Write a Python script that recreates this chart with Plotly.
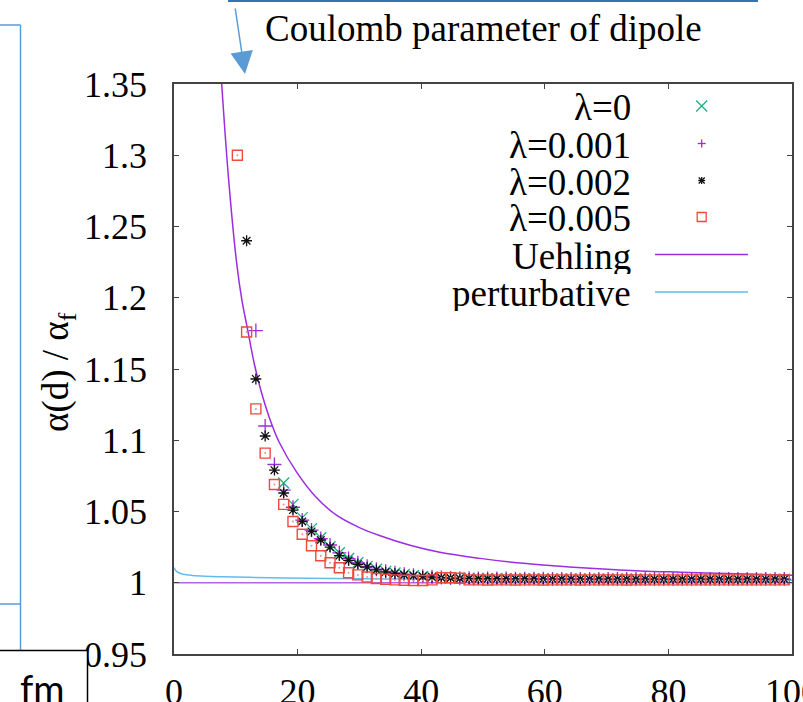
import plotly.graph_objects as go

# ---------------- data ----------------
d_grid = [10.25, 11.75, 13.25, 14.75, 16.25, 17.75, 19.25, 20.75, 22.25, 23.75,
          25.25, 26.75, 28.25, 29.75, 31.25, 32.75, 34.25, 35.75, 37.25, 38.75,
          40.25, 41.75, 43.25, 44.75, 46.25, 47.75, 49.25, 50.75, 52.25, 53.75,
          55.25, 56.75, 58.25, 59.75, 61.25, 62.75, 64.25, 65.75, 67.25, 68.75,
          70.25, 71.75, 73.25, 74.75, 76.25, 77.75, 79.25, 80.75, 82.25, 83.75,
          85.25, 86.75, 88.25, 89.75, 91.25, 92.75, 94.25, 95.75, 97.25, 98.75]

lam0 = [None, None, None, None, None, 1.070, 1.055, 1.0457, 1.038, 1.0316,
        1.0253, 1.021, 1.017, 1.014, 1.0115, 1.0095, 1.008, 1.0068, 1.0058, 1.005,
        1.0045, 1.0040, 1.0036, 1.0034, 1.0032, 1.0031, 1.0030, 1.0030, 1.0029, 1.0029,
        1.0028, 1.0028, 1.0028, 1.0028, 1.0027, 1.0027, 1.0027, 1.0027, 1.0027, 1.0026,
        1.0026, 1.0026, 1.0026, 1.0026, 1.0026, 1.0026, 1.0025, 1.0025, 1.0025, 1.0025,
        1.0025, 1.0025, 1.0025, 1.0025, 1.0025, 1.0025, 1.0025, 1.0025, 1.0025, 1.0025]

lam001 = [None, None, 1.177, 1.110, 1.083, 1.065, 1.053, 1.044, 1.037, 1.031,
          1.0265, 1.021, 1.017, 1.014, 1.0115, 1.0095, 1.008, 1.007, 1.006, 1.0052,
          1.0046, 1.0040, 1.0037, 1.0034, 1.0032, 1.0031, 1.0030, 1.0030, 1.0029, 1.0029,
          1.0028, 1.0028, 1.0028, 1.0028, 1.0027, 1.0027, 1.0027, 1.0027, 1.0027, 1.0027,
          1.0026, 1.0026, 1.0026, 1.0026, 1.0026, 1.0026, 1.0026, 1.0026, 1.0026, 1.0026,
          1.0026, 1.0026, 1.0026, 1.0026, 1.0026, 1.0026, 1.0026, 1.0026, 1.0026, 1.0026]

lam002 = [None, 1.240, 1.143, 1.103, 1.079, 1.063, 1.051, 1.043, 1.036, 1.030,
          1.025, 1.019, 1.0157, 1.013, 1.011, 1.009, 1.0075, 1.0065, 1.0055, 1.005,
          1.0045, 1.0040, 1.0035, 1.0033, 1.0030, 1.0029, 1.0028, 1.0028, 1.0028, 1.0027,
          1.0027, 1.0027, 1.0027, 1.0026, 1.0026, 1.0026, 1.0026, 1.0026, 1.0026, 1.0026,
          1.0025, 1.0025, 1.0025, 1.0025, 1.0025, 1.0025, 1.0025, 1.0025, 1.0025, 1.0025,
          1.0025, 1.0025, 1.0025, 1.0025, 1.0025, 1.0025, 1.0025, 1.0025, 1.0025, 1.0025]

lam005 = [1.300, 1.176, 1.122, 1.091, 1.069, 1.055, 1.043, 1.034, 1.026, 1.019,
          1.014, 1.0105, 1.007, 1.0055, 1.004, 1.003, 1.0025, 1.002, 1.0018, 1.0016,
          1.0016, 1.0020, 1.0035, 1.0035, 1.0032, 1.0020, 1.0020, 1.0019, 1.0020, 1.0020,
          1.0019, 1.0020, 1.0020, 1.0019, 1.0020, 1.0020, 1.0020, 1.0019, 1.0020, 1.0020,
          1.0020, 1.0020, 1.0019, 1.0020, 1.0020, 1.0020, 1.0020, 1.0020, 1.0020, 1.0020,
          1.0020, 1.0020, 1.0020, 1.0020, 1.0020, 1.0020, 1.0020, 1.0020, 1.0020, 1.0020]

uehling_x = [7.5, 7.72, 8.8, 10.15, 11.0, 11.87, 13.0, 14.0, 15.5, 17.0, 19.87,
             23.0, 26.35, 30.0, 33.36, 38.2, 43.0, 49.55, 56.0, 62.0, 68.0, 75.5,
             82.0, 88.0, 94.0, 100.0]
uehling_y = [1.365, 1.35, 1.285, 1.224, 1.198, 1.1786, 1.1535, 1.136, 1.115, 1.0988,
             1.0775, 1.060, 1.0472, 1.0387, 1.0330, 1.0263, 1.0214, 1.0171, 1.0138,
             1.0117, 1.0100, 1.0083, 1.0074, 1.0066, 1.0059, 1.0053]

pert_x = [0, 0.3, 0.7, 1.2, 2, 3, 5, 8, 12, 18, 26, 35, 45, 60, 80, 100]
pert_y = [1.0106, 1.0085, 1.0072, 1.0063, 1.0056, 1.0051, 1.0046, 1.0042, 1.0038,
          1.0034, 1.0030, 1.0027, 1.0025, 1.0022, 1.0019, 1.0017]

base_x = [0, 100]
base_y = [1.0, 1.0]

x_ticks = [0, 20, 40, 60, 80, 100]
x_ticktext = ["0", "20", "40", "60", "80", "100"]
y_ticks = [0.95, 1.0, 1.05, 1.1, 1.15, 1.2, 1.25, 1.3, 1.35]
y_ticktext = ["0.95", "1", "1.05", "1.1", "1.15", "1.2", "1.25", "1.3", "1.35"]

legend_labels = ["λ=0", "λ=0.001", "λ=0.002", "λ=0.005", "Uehling", "perturbative"]

# ---------------- styling ----------------
W, H = 803, 702
L, R, T, B = 174, 792, 84, 654
SERIF = "Liberation Serif"
C_GREEN = "#1FAE80"
C_PURPLE = "#9B2EE0"
C_BLACK = "#111111"
C_RED = "#EE4A40"
C_SKY = "#62BDEB"
C_SLIDE = "#5B9BD5"


def PX(x):
    return (x - L) / (R - L)


def PY(y):
    return (B - y) / (B - T)


fig = go.Figure()

fig.add_trace(go.Scatter(x=base_x, y=base_y, mode="lines",
                         line=dict(color="#B066E8", width=1.6), showlegend=False,
                         hoverinfo="skip"))
fig.add_trace(go.Scatter(x=pert_x, y=pert_y, mode="lines", name=legend_labels[5],
                         line=dict(color=C_SKY, width=1.5, shape="spline"),
                         showlegend=False))
fig.add_trace(go.Scatter(x=uehling_x, y=uehling_y, mode="lines", name=legend_labels[4],
                         line=dict(color=C_PURPLE, width=1.5, shape="spline"),
                         showlegend=False))
fig.add_trace(go.Scatter(x=d_grid, y=lam0, mode="markers", name=legend_labels[0],
                         marker=dict(symbol="x-thin-open", size=11, color=C_GREEN,
                                     line=dict(color=C_GREEN, width=1.3)),
                         showlegend=False))
fig.add_trace(go.Scatter(x=d_grid, y=lam001, mode="markers", name=legend_labels[1],
                         marker=dict(symbol="cross-thin-open", size=10, color=C_PURPLE,
                                     line=dict(color=C_PURPLE, width=1.3)),
                         showlegend=False))
fig.add_trace(go.Scatter(x=d_grid, y=lam002, mode="markers", name=legend_labels[2],
                         marker=dict(symbol="asterisk-open", size=9, color=C_BLACK,
                                     line=dict(color=C_BLACK, width=1.3)),
                         showlegend=False))
fig.add_trace(go.Scatter(x=d_grid, y=lam005, mode="markers", name=legend_labels[3],
                         marker=dict(symbol="square-open", size=10, color=C_RED,
                                     line=dict(color=C_RED, width=1.4)),
                         showlegend=False))
fig.add_trace(go.Scatter(x=d_grid, y=lam005, mode="markers", showlegend=False,
                         marker=dict(symbol="circle", size=2, color="#F09090"),
                         hoverinfo="skip"))

shapes = []
annotations = []

# manual gnuplot-style legend (text right, sample to its right)
row_y = [106, 143.5, 180.5, 217, 254.5, 292]
for lab, yy in zip(legend_labels, row_y):
    annotations.append(dict(xref="paper", yref="paper", x=PX(633), y=PY(yy + 1),
                            xanchor="right", yanchor="middle", text=lab, showarrow=False,
                            height=36, valign="middle",
                            font=dict(family=SERIF, size=37, color="black")))


def seg(x0, y0, x1, y1, color, width=1.3):
    shapes.append(dict(type="line", xref="paper", yref="paper",
                       x0=PX(x0), y0=PY(y0), x1=PX(x1), y1=PY(y1),
                       line=dict(color=color, width=width)))


cx = 701.7
# ×
yy = row_y[0]
seg(cx - 5.5, yy - 5.5, cx + 5.5, yy + 5.5, C_GREEN)
seg(cx - 5.5, yy + 5.5, cx + 5.5, yy - 5.5, C_GREEN)
# +
yy = row_y[1]
seg(cx - 4, yy, cx + 4, yy, C_PURPLE)
seg(cx, yy - 4, cx, yy + 4, C_PURPLE)
# asterisk
yy = row_y[2]
seg(cx - 3.5, yy, cx + 3.5, yy, C_BLACK)
seg(cx, yy - 3.5, cx, yy + 3.5, C_BLACK)
seg(cx - 3, yy - 3, cx + 3, yy + 3, C_BLACK)
seg(cx - 3, yy + 3, cx + 3, yy - 3, C_BLACK)
# square
yy = row_y[3]
shapes.append(dict(type="rect", xref="paper", yref="paper",
                   x0=PX(cx - 4.5), x1=PX(cx + 4.5), y0=PY(yy - 4.5), y1=PY(yy + 4.5),
                   line=dict(color=C_RED, width=1.3)))
# lines
seg(655, row_y[4], 748, row_y[4], C_PURPLE, 1.6)
seg(655, row_y[5], 748, row_y[5], C_SKY, 1.6)

# slide decorations around the chart
seg(228, 1, 758, 1, "#2E75B6", 2.2)
seg(0, 25, 20.5, 25, C_SLIDE, 1.5)
seg(20.5, 25, 20.5, 650, C_SLIDE, 1.5)
seg(0, 604, 20.5, 604, C_SLIDE, 1.5)
shapes.append(dict(type="rect", xref="paper", yref="paper",
                   x0=PX(-3), x1=PX(87.5), y0=PY(650.5), y1=PY(710),
                   line=dict(color="black", width=1.5), fillcolor="white"))

annotations.append(dict(xref="paper", yref="paper", x=PX(42), y=PY(688),
                        text="fm", showarrow=False, xanchor="center", yanchor="middle",
                        font=dict(family="Lato", size=38, color="black")))

annotations.append(dict(xref="paper", yref="paper", x=PX(483), y=PY(29),
                        text="Coulomb parameter of dipole", showarrow=False,
                        xanchor="center", yanchor="middle",
                        font=dict(family=SERIF, size=37, color="black")))

annotations.append(dict(xref="paper", yref="paper", x=PX(245), y=PY(74),
                        axref="pixel", ayref="pixel", ax=-10, ay=-67,
                        text="", showarrow=True, arrowhead=2, arrowsize=3,
                        arrowwidth=1.5, arrowcolor=C_SLIDE))

annotations.append(dict(xref="paper", yref="paper", x=PX(58), y=PY(372),
                        text="α(d) / α<sub>f</sub>", showarrow=False, textangle=-90,
                        xanchor="center", yanchor="middle",
                        font=dict(family=SERIF, size=37, color="black")))

fig.update_layout(
    width=W, height=H,
    margin=dict(l=L, r=W - R, t=T, b=H - B, pad=0),
    paper_bgcolor="white", plot_bgcolor="white",
    showlegend=False,
    shapes=shapes, annotations=annotations,
    font=dict(family=SERIF, color="black"),
)
axis_common = dict(showgrid=False, zeroline=False, showline=True, mirror="ticks",
                   linecolor="#444", linewidth=1.5, ticks="inside", ticklen=5,
                   tickwidth=1.2, tickcolor="#444", automargin=False,
                   ticklabeloverflow="allow",
                   tickfont=dict(family=SERIF, size=36, color="black"))
fig.update_xaxes(range=[0, 100], tickvals=x_ticks, ticktext=x_ticktext,
                 ticklabelstandoff=5, **axis_common)
fig.update_yaxes(range=[0.95, 1.35], tickvals=y_ticks, ticktext=y_ticktext,
                 ticklabelstandoff=18, **axis_common)

fig.write_html("out.html")
